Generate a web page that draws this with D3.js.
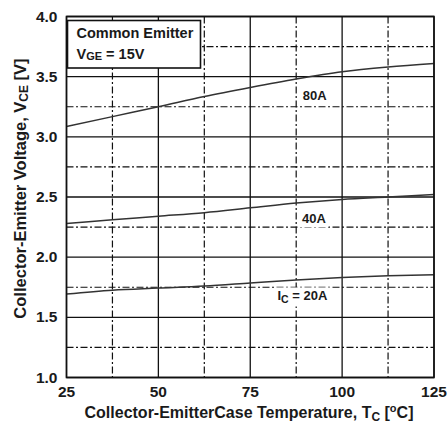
<!DOCTYPE html>
<html>
<head>
<meta charset="utf-8">
<script src="https://cdn.jsdelivr.net/npm/d3@7"></script>
<style>
  body { margin: 0; background: #fff; }
  svg { display: block; }
  text { font-family: "Liberation Sans", Arial, sans-serif; font-weight: bold; fill: #1a1a1a; }
</style>
</head>
<body>
<svg id="chart" width="448" height="427"></svg>
<script>
// temperatures (deg C) where the curves were read
const temps = [25, 37.5, 50, 62.5, 75, 87.5, 100, 112.5, 125];
// VCE (V) for each collector current
const vce80 = [3.085, 3.168, 3.25, 3.335, 3.41, 3.48, 3.54, 3.58, 3.61];
const vce40 = [2.28, 2.31, 2.34, 2.37, 2.41, 2.45, 2.48, 2.50, 2.52];
const vce20 = [1.693, 1.726, 1.743, 1.76, 1.785, 1.81, 1.83, 1.845, 1.853];

const xTicks = [25, 50, 75, 100, 125];
const yTicks = [1.0, 1.5, 2.0, 2.5, 3.0, 3.5, 4.0];
const xMinor = [37.5, 62.5, 87.5, 112.5];
const yMinor = [1.25, 1.75, 2.25, 2.75, 3.25, 3.75];

// curve labels, anchored at data coords
const curveLabels = [
  { main: "80A", t: 89.3, v: 3.31 },
  { main: "40A", t: 89.1, v: 2.28 },
  { pre: "I", sub: "C", main: " = 20A", t: 82.4, v: 1.64 }
];

const svg = d3.select('#chart');
const x = d3.scaleLinear().domain([25, 125]).range([66.5, 434]);
const y = d3.scaleLinear().domain([1, 4]).range([377.5, 16.5]);

const dash = "7,2.5,2,2.5";

// minor dash-dot grid
svg.append('g').selectAll('line')
  .data(xMinor).join('line')
  .attr('x1', d => x(d)).attr('x2', d => x(d))
  .attr('y1', y(4)).attr('y2', y(1))
  .attr('stroke', '#111').attr('stroke-width', 1.2)
  .attr('stroke-dasharray', dash);
svg.append('g').selectAll('line')
  .data(yMinor).join('line')
  .attr('x1', x(25)).attr('x2', x(125))
  .attr('y1', d => y(d)).attr('y2', d => y(d))
  .attr('stroke', '#111').attr('stroke-width', 1.2)
  .attr('stroke-dasharray', dash);

// major solid grid
svg.append('g').selectAll('line')
  .data(xTicks).join('line')
  .attr('x1', d => x(d)).attr('x2', d => x(d))
  .attr('y1', y(4)).attr('y2', y(1))
  .attr('stroke', '#111').attr('stroke-width', 1.3);
svg.append('g').selectAll('line')
  .data(yTicks).join('line')
  .attr('x1', x(25)).attr('x2', x(125))
  .attr('y1', d => y(d)).attr('y2', d => y(d))
  .attr('stroke', '#111').attr('stroke-width', 1.3);

// curves
const line = d3.line()
  .x(d => x(d[0])).y(d => y(d[1]))
  .curve(d3.curveMonotoneX);
[vce80, vce40, vce20].forEach(vals => {
  svg.append('path')
    .datum(temps.map((t, i) => [t, vals[i]]))
    .attr('d', line)
    .attr('fill', 'none')
    .attr('stroke', '#333')
    .attr('stroke-width', 1.5);
});

// curve labels with white background
curveLabels.forEach(l => {
  const g = svg.append('g');
  const bg = g.append('rect').attr('fill', '#fff');
  const t = g.append('text')
    .attr('x', x(l.t)).attr('y', y(l.v))
    .style('font-size', '13px');
  if (l.pre) {
    t.append('tspan').text(l.pre);
    t.append('tspan').text(l.sub).style('font-size', '10.5px').attr('dy', 3);
    t.append('tspan').text(l.main).attr('dy', -3);
  } else {
    t.text(l.main);
  }
  const b = t.node().getBBox();
  bg.attr('x', b.x - 3).attr('y', b.y - 1)
    .attr('width', b.width + 5).attr('height', b.height + 2);
});

// plot frame
svg.append('rect')
  .attr('x', x(25)).attr('y', y(4))
  .attr('width', x(125) - x(25)).attr('height', y(1) - y(4))
  .attr('fill', 'none').attr('stroke', '#111').attr('stroke-width', 1.6);

// legend box
const lg = svg.append('g').attr('transform', `translate(${x(25) + 1},${y(4) + 4})`);
lg.append('rect')
  .attr('width', 133).attr('height', 47.5)
  .attr('fill', '#fff').attr('stroke', '#111').attr('stroke-width', 1.6);
lg.append('text').attr('x', 9).attr('y', 17)
  .style('font-size', '14.5px').text('Common Emitter');
const vge = lg.append('text').attr('x', 9).attr('y', 38).style('font-size', '14.5px');
vge.append('tspan').text('V');
vge.append('tspan').text('GE').style('font-size', '11px').attr('dy', 1);
vge.append('tspan').text(' = 15V').attr('dy', -1);

// tick labels
svg.append('g').selectAll('text')
  .data(yTicks).join('text')
  .attr('x', 57.5).attr('y', d => y(d) + 5)
  .attr('text-anchor', 'end')
  .style('font-size', '15.5px')
  .text(d => d.toFixed(1));
svg.append('g').selectAll('text')
  .data(xTicks).join('text')
  .attr('x', d => x(d)).attr('y', 397)
  .attr('text-anchor', 'middle')
  .style('font-size', '15.5px')
  .text(d => d);

// axis titles
const xt = svg.append('text')
  .attr('x', 249).attr('y', 418)
  .attr('text-anchor', 'middle')
  .style('font-size', '16px');
xt.append('tspan').text('Collector-EmitterCase Temperature, T');
xt.append('tspan').text('C').style('font-size', '12px').attr('dy', 3);
xt.append('tspan').text(' [').attr('dy', -3);
xt.append('tspan').text('o').style('font-size', '11px').attr('dy', -6);
xt.append('tspan').text('C]').attr('dy', 6);

const yt = svg.append('text')
  .attr('transform', 'translate(25.5,188.5) rotate(-90)')
  .attr('text-anchor', 'middle')
  .style('font-size', '16.5px');
yt.append('tspan').text('Collector-Emitter Voltage, V');
yt.append('tspan').text('CE').style('font-size', '12px').attr('dy', 2);
yt.append('tspan').text(' [V]').attr('dy', -2);
</script>
</body>
</html>
